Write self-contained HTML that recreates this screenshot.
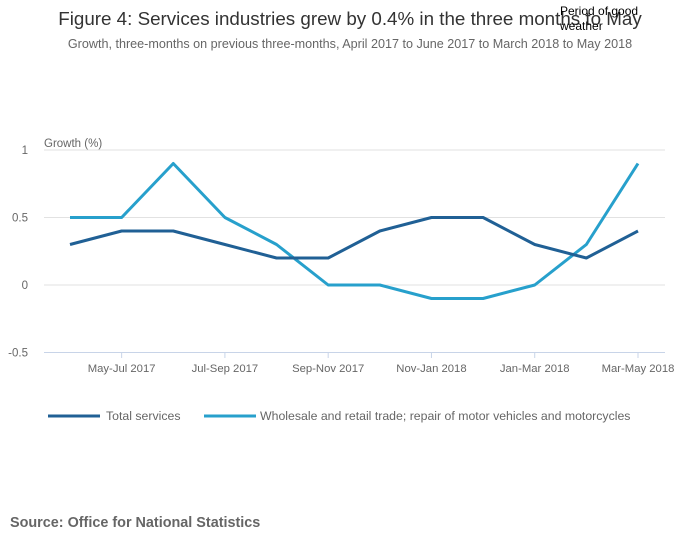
<!DOCTYPE html>
<html><head><meta charset="utf-8"><style>
body{margin:0;background:#fff;font-family:"Liberation Sans",sans-serif;}
</style></head><body>
<svg id="c" width="700" height="549" xmlns="http://www.w3.org/2000/svg" font-family="Liberation Sans, sans-serif">
<text x="350" y="25" text-anchor="middle" font-size="18.8" fill="#333">Figure 4: Services industries grew by 0.4% in the three months to May</text>
<text x="560" y="15" font-size="12" fill="#000">Period of good</text>
<text x="560" y="30" font-size="12" fill="#000">weather</text>
<text x="350" y="48" text-anchor="middle" font-size="12.6" fill="#666">Growth, three-months on previous three-months, April 2017 to June 2017 to March 2018 to May 2018</text>
<text x="44" y="147" font-size="11.5" fill="#666">Growth (%)</text>
<g id="grid"></g><g id="xax"></g><g id="lines"></g>
<g>
<line x1="48" y1="416" x2="100" y2="416" stroke="#206095" stroke-width="3"/>
<text x="106" y="420" font-size="12.3" fill="#666">Total services</text>
<line x1="204" y1="416" x2="256" y2="416" stroke="#27a0cc" stroke-width="3"/>
<text x="260" y="420" font-size="12.3" fill="#666">Wholesale and retail trade; repair of motor vehicles and motorcycles</text>
</g>
<text x="10" y="527" font-size="14.4" font-weight="bold" fill="#666">Source: Office for National Statistics</text>
</svg>
<script>
const categories=["Apr-Jun 2017","May-Jul 2017","Jun-Aug 2017","Jul-Sep 2017","Aug-Oct 2017","Sep-Nov 2017","Oct-Dec 2017","Nov-Jan 2018","Dec-Feb 2018","Jan-Mar 2018","Feb-Apr 2018","Mar-May 2018"];
const totalServices=[0.3,0.4,0.4,0.3,0.2,0.2,0.4,0.5,0.5,0.3,0.2,0.4];
const wholesale=[0.5,0.5,0.9,0.5,0.3,0,0,-0.1,-0.1,0,0.3,0.9];
const yTicks=[1,0.5,0,-0.5];
const NS="http://www.w3.org/2000/svg";
const x=i=>70+i*(638-70)/(categories.length-1);
const y=v=>285-v*135;
function mk(t,a,p){const e=document.createElementNS(NS,t);for(const k in a)e.setAttribute(k,a[k]);p.appendChild(e);return e;}
const g=document.getElementById('grid');
yTicks.forEach(v=>{
 const l=mk('line',{x1:44,x2:665,y1:y(v),y2:y(v),stroke:v===-0.5?'#c8d4e8':'#e2e2e2'},g);
 
 
 const t=mk('text',{x:28,y:y(v)+4,'text-anchor':'end','font-size':11.5,fill:'#666'},g);
 t.textContent=v;
 
 
});
const xa=document.getElementById('xax');
categories.forEach((c,i)=>{
 if(i%2===1){
  const tk=mk('line',{x1:x(i),x2:x(i),y1:352,y2:358,stroke:'#c8d4e8'},xa);
  
  
  const t=mk('text',{x:x(i),y:372,'text-anchor':'middle','font-size':11.3,fill:'#666'},xa);
  t.textContent=c;
  
  
 }
});
const L=document.getElementById('lines');
[[wholesale,'#27a0cc','wholesale-line'],[totalServices,'#206095','total-services-line']].forEach(([d,col,n])=>{
 const p=mk('polyline',{points:d.map((v,i)=>x(i)+','+y(v)).join(' '),fill:'none',stroke:col,'stroke-width':3,'stroke-linejoin':'round'},L);
 
 
});
</script>
</body></html>
